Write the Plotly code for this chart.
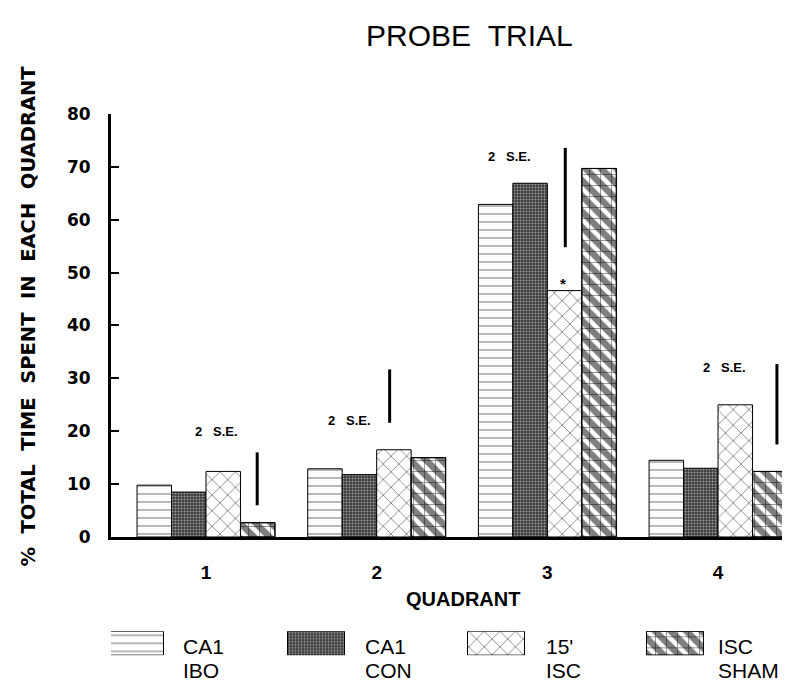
import plotly.graph_objects as go

# ---------------- data ----------------
quadrants = [1, 2, 3, 4]
quadrant_labels = ["1", "2", "3", "4"]
series_names = ["CA1<br>IBO", "CA1<br>CON", "15'<br>ISC", "ISC<br>SHAM"]
ca1_ibo = [9.8, 12.9, 62.9, 14.5]
ca1_con = [8.5, 11.8, 66.9, 13.0]
isc_15 = [12.4, 16.5, 46.6, 25.0]
isc_sham = [2.7, 15.0, 69.7, 12.4]
# 2 S.E. reference bars (x position, low, high)
se_x = [1.30, 2.076, 3.105, 4.345]
se_low = [6.0, 21.6, 54.8, 17.5]
se_high = [16.0, 31.7, 73.6, 32.7]
se_label_x = [1.06, 1.84, 2.78, 4.04]
se_label_y = [19.9, 22.0, 71.9, 32.1]
star_x = [3.09]
star_y = [47.9]
yticks = [0, 10, 20, 30, 40, 50, 60, 70, 80]

# ---------------- geometry helpers (pixels) ----------------
W, H = 790, 682
ML, MR, MT, MB = 103, 4, 106, 10
PW, PH = W - ML - MR, H - MT - MB


def px(xp):
    return (xp - ML) / PW


def py(yp):
    return (H - MB - yp) / PH


Y0_PX = 532
main_domain = [py(Y0_PX), 1.0]

patterns = [
    dict(shape="-", size=8, solidity=0.14, fgcolor="black", bgcolor="white"),
    dict(shape=".", size=3, solidity=0.35, fgcolor="white", bgcolor="#3a3a3a"),
    dict(shape="x", size=11, solidity=0.15, fgcolor="black", bgcolor="white"),
    dict(shape="\\", size=11, solidity=0.6, fgcolor="black", bgcolor="white"),
]
grid_pattern = dict(shape="+", size=11, solidity=0.14, fgcolor="black",
                    bgcolor="rgba(0,0,0,0)")
series = [ca1_ibo, ca1_con, isc_15, isc_sham]

fig = go.Figure()
bw = 0.202
for i, (vals, pat, name) in enumerate(zip(series, patterns, series_names)):
    fig.add_trace(go.Bar(
        x=quadrants, y=vals, width=bw, offset=-2 * bw + i * bw,
        marker=dict(color="white", pattern=pat, line=dict(color="black", width=1)),
        name=name, showlegend=False,
    ))
# grid overlay for SHAM triangles look
fig.add_trace(go.Bar(
    x=quadrants, y=isc_sham, width=bw, offset=bw,
    marker=dict(color="rgba(0,0,0,0)", pattern=grid_pattern,
                line=dict(color="black", width=1)),
    showlegend=False, hoverinfo="skip",
))

# S.E. lines
lx, ly = [], []
for x, lo, hi in zip(se_x, se_low, se_high):
    lx += [x, x, None]
    ly += [lo, hi, None]
fig.add_trace(go.Scatter(x=lx, y=ly, mode="lines", line=dict(color="black", width=3),
                         showlegend=False, hoverinfo="skip"))

for x, y in zip(se_label_x, se_label_y):
    fig.add_annotation(x=x, y=y, xref="x", yref="y", text="2&nbsp;&nbsp;&nbsp;S.E.",
                       showarrow=False,
                       font=dict(family="Liberation Sans", size=13, color="black", weight="bold"))
for x, y in zip(star_x, star_y):
    fig.add_annotation(x=x, y=y, xref="x", yref="y", text="*", showarrow=False,
                       font=dict(family="Liberation Sans", size=15, color="black", weight="bold"))

# ---------------- legend drawn on its own axes ----------------
leg_centers = [127, 308, 488, 667]
leg_text_x = [173, 355, 536, 708]
leg_w = 57
for i, (c, pat) in enumerate(zip(leg_centers, patterns)):
    fig.add_trace(go.Bar(
        x=[c], y=[1], width=leg_w, xaxis="x2", yaxis="y2",
        marker=dict(color="white", pattern=pat, line=dict(color="black", width=1)),
        showlegend=False, hoverinfo="skip",
    ))
fig.add_trace(go.Bar(
    x=[leg_centers[3]], y=[1], width=leg_w, xaxis="x2", yaxis="y2",
    marker=dict(color="rgba(0,0,0,0)", pattern=grid_pattern,
                line=dict(color="black", width=1)),
    showlegend=False, hoverinfo="skip",
))
for tx, name in zip(leg_text_x, series_names):
    l1, l2 = name.split("<br>")
    fig.add_annotation(x=px(tx), y=py(642), xref="paper", yref="paper", text=l1,
                       xanchor="left", yanchor="middle", showarrow=False,
                       font=dict(family="Liberation Sans", size=21, color="black"))
    fig.add_annotation(x=px(tx), y=py(666), xref="paper", yref="paper", text=l2,
                       xanchor="left", yanchor="middle", showarrow=False,
                       font=dict(family="Liberation Sans", size=21, color="black"))

# titles
fig.add_annotation(x=px(461), y=py(27), xref="paper", yref="paper", text="PROBE&nbsp;&nbsp;TRIAL",
                   showarrow=False, xanchor="center", yanchor="middle",
                   font=dict(family="Liberation Sans", size=30, color="black"))
fig.add_annotation(x=px(455), y=py(594), xref="paper", yref="paper", text="QUADRANT",
                   showarrow=False, xanchor="center", yanchor="middle",
                   font=dict(family="Liberation Sans", size=20, color="black", weight="bold"))
fig.add_annotation(x=px(21), y=py(310), xref="paper", yref="paper",
                   text="%&nbsp;&nbsp;TOTAL&nbsp;&nbsp;TIME&nbsp;&nbsp;SPENT&nbsp;&nbsp;IN&nbsp;&nbsp;EACH&nbsp;&nbsp;QUADRANT",
                   textangle=-90, showarrow=False, xanchor="center", yanchor="middle",
                   font=dict(family="DejaVu Sans", size=19.5, color="black", weight="bold"))

fig.update_layout(
    width=W, height=H,
    margin=dict(l=ML, r=MR, t=MT, b=MB),
    paper_bgcolor="white", plot_bgcolor="white",
    barmode="overlay",
    xaxis=dict(range=[0.4435, 4.445], tickvals=quadrants, ticktext=quadrant_labels,
               ticks="", showgrid=False, zeroline=False, showline=True,
               linecolor="black", linewidth=3, anchor="y",
               ticklabelstandoff=16,
               tickfont=dict(family="Liberation Sans", size=19, color="black", weight="bold")),
    yaxis=dict(range=[0, 80], domain=main_domain, tickvals=yticks,
               ticks="inside", ticklen=8, tickwidth=2, tickcolor="black",
               showgrid=False, zeroline=False, showline=True, linecolor="black", linewidth=3,
               ticklabelstandoff=14,
               tickfont=dict(family="DejaVu Sans", size=17, color="black", weight="bold")),
    xaxis2=dict(range=[ML, W - MR], domain=[0, 1], anchor="y2", visible=False),
    yaxis2=dict(range=[0, 1], domain=[py(651), py(627)], anchor="x2", visible=False),
)

fig.write_html("out.html")
